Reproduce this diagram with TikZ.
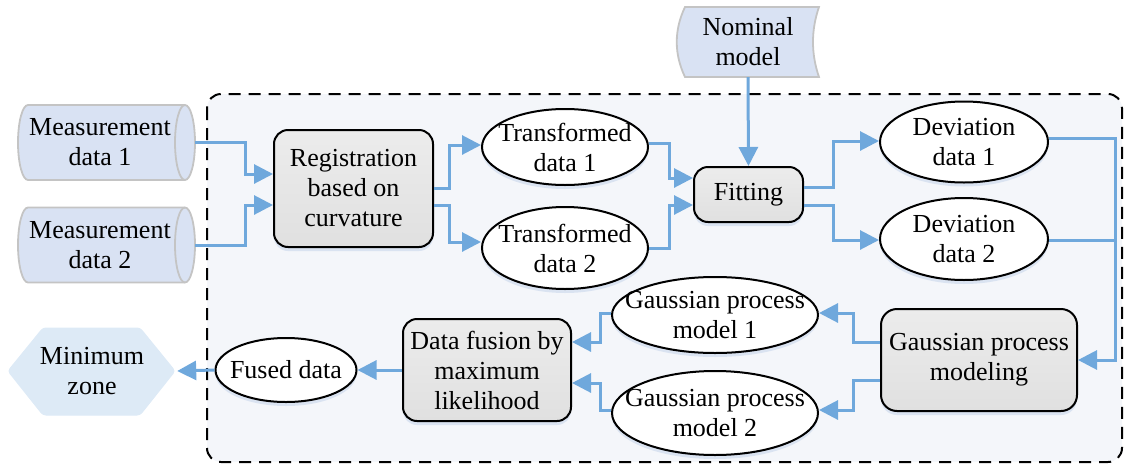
\documentclass[tikz,border=0pt]{standalone}
\usepackage{fontspec}
\setmainfont{Liberation Serif}
\usetikzlibrary{arrows.meta,shapes.geometric,shadows,calc}
\definecolor{arr}{RGB}{111,168,220}
\definecolor{cylfill}{RGB}{217,226,243}
\definecolor{cylline}{RGB}{196,196,196}
\definecolor{hexfill}{RGB}{221,234,246}
\definecolor{bgfill}{RGB}{244,246,250}
\definecolor{boxtop}{RGB}{236,236,236}
\definecolor{boxbot}{RGB}{224,224,224}
\definecolor{shad}{RGB}{208,220,238}
\newcommand{\mycyl}[2]{%
  \draw[draw=cylline, line width=1.8pt, fill=cylfill]
    ({#1-78.5},{#2-37.5}) -- ({#1+78.5},{#2-37.5})
    arc[start angle=90,end angle=-90,x radius=10pt,y radius=37.5pt]
    -- ({#1-78.5},{#2+37.5})
    arc[start angle=270,end angle=90,x radius=10pt,y radius=37.5pt] -- cycle;
  \draw[draw=cylline, line width=1.8pt]
    ({#1+78.5},{#2-37.5}) arc[start angle=90,end angle=270,x radius=10pt,y radius=37.5pt];}
\begin{document}
\begin{tikzpicture}[x=1pt,y=-1pt,
  font=\fontsize{26}{30}\selectfont,
  conn/.style={draw=arr, line width=3pt, -{Triangle[length=19pt,width=19pt]}},
  plainline/.style={draw=arr, line width=3pt},
  txt/.style={align=center, inner sep=0pt},
  box/.style={draw=black, line width=2pt, rounded corners=14pt, top color=boxtop, bottom color=boxbot,
    align=center, inner sep=0pt, drop shadow={shadow xshift=0pt, shadow yshift=-4pt, fill=shad, opacity=0.7}},
  ell/.style={ellipse, draw=black, line width=2pt, fill=white, inner sep=0pt,
    drop shadow={shadow xshift=0pt, shadow yshift=-4pt, fill=shad, opacity=0.7}}]
\useasboundingbox (0,0) rectangle (1128,464);
% background region
\draw[line width=2pt, dash pattern=on 12pt off 8pt, fill=bgfill, rounded corners=14pt] (207,94) rectangle (1122,462);

% measurement cylinders
\mycyl{106.5}{142.5}
\mycyl{106.5}{245}
\node[txt, minimum width=190, minimum height=75] (m1) at (100,142.5) {Measurement\\data 1};
\node[txt, minimum width=190, minimum height=75] (m2) at (100,245) {Measurement\\data 2};

% nominal model
\draw[draw=cylline, line width=1.8pt, fill=cylfill]
  (685,7) -- (819,7) .. controls (811,30) and (811,54) .. (819,77)
  -- (685,77) .. controls (674,54) and (674,30) .. (685,7) -- cycle;
\node[txt, minimum width=130, minimum height=70] (nom) at (748,42) {Nominal\\model};

% minimum zone hexagon
\draw[fill=hexfill, draw=hexfill, line width=1pt, rounded corners=3pt]
  (8,371) -- (43,328) -- (140,328) -- (175,371) -- (140,415) -- (43,415) -- cycle;
\node[txt, minimum width=170, minimum height=87] (mz) at (92,371) {Minimum\\zone};

% boxes
\node[box, minimum width=159, minimum height=117] (reg) at (353.5,188.5) {Registration\\based on\\curvature};
\node[box, minimum width=109, minimum height=55] (fit) at (748.5,194.5) {Fitting};
\node[box, minimum width=196, minimum height=102, rounded corners=16pt] (gpm) at (979,360) {Gaussian process\\modeling};
\node[box, minimum width=168, minimum height=102] (df) at (487,370) {Data fusion by\\maximum\\likelihood};

% ellipses
\node[ell, minimum width=166, minimum height=76, label={[txt]center:Transformed\\data 1}] (t1) at (565,147) {};
\node[ell, minimum width=166, minimum height=82, label={[txt]center:Transformed\\data 2}] (t2) at (565,248) {};
\node[ell, minimum width=168, minimum height=81, label={[txt]center:Deviation\\data 1}] (dev1) at (964,142) {};
\node[ell, minimum width=168, minimum height=82, label={[txt]center:Deviation\\data 2}] (dev2) at (964,239) {};
\node[ell, minimum width=206, minimum height=76, label={[txt]center:Gaussian process\\model 1}] (gp1) at (715,315) {};
\node[ell, minimum width=206, minimum height=84, label={[txt]center:Gaussian process\\model 2}] (gp2) at (715,413) {};
\node[ell, minimum width=141, minimum height=64, label={[txt]center:Fused data}] (fused) at (286,370) {};

% connectors
\draw[conn] (m1.east) -| (245,174) -- (reg.west |- 0,174);
\draw[conn] (m2.east) -| (245,205) -- (reg.west |- 0,205);
\draw[conn] (reg.east |- 0,188) -| (449,145) -- (t1.west |- 0,145);
\draw[conn] (reg.east |- 0,205) -| (449,242) -- (t2.west |- 0,242);
\draw[conn] (t1.east |- 0,143) -| (669,178) -- (fit.west |- 0,178);
\draw[conn] (t2.east |- 0,248) -| (669,205) -- (fit.west |- 0,205);
\draw[conn] (nom.south) -- (fit.north);
\draw[conn] (fit.east |- 0,187) -| (833,141) -- (dev1.west |- 0,141);
\draw[conn] (fit.east |- 0,205) -| (833,240) -- (dev2.west |- 0,240);
\draw[plainline] (dev2.east |- 0,240) -- (1115,240);
\draw[conn] (dev1.east |- 0,138) -| (1115,360) -- (gpm.east |- 0,360);
\draw[conn] (gpm.west |- 0,342) -| (853,313) -- (gp1.east |- 0,313);
\draw[conn] (gpm.west |- 0,380) -| (853,410) -- (gp2.east |- 0,410);
\draw[conn] (gp1.west |- 0,313) -| (600,342) -- (df.east |- 0,342);
\draw[conn] (gp2.west |- 0,410) -| (600,383) -- (df.east |- 0,383);
\draw[conn] (df.west) -- (fused.east);
\draw[conn] (fused.west) -- (mz.east);
\end{tikzpicture}
\end{document}
